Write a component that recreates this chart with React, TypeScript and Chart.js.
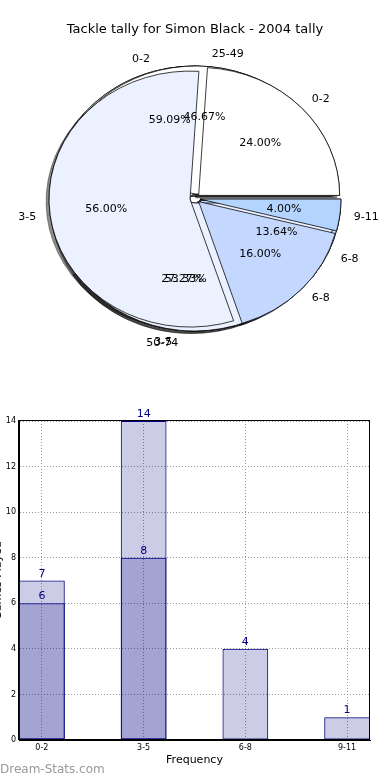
import React, { useEffect, useRef } from 'react';
import { Chart, registerables } from 'chart.js';

Chart.register(...registerables);
Chart.defaults.font.family = '"DejaVu Sans", sans-serif';

// ---------- data ----------
const TITLE = 'Tackle tally for Simon Black - 2004 tally';

// overall pie (drawn on top)
const allLabels = ['0-2', '3-5', '6-8', '9-11'];
const allValues = [6, 14, 4, 1];
// game-range pie
const rangeLabels = ['25-49', '50-74'];
const rangeValues = [7, 8];
// sub pie
const subLabels = ['0-2', '3-5', '6-8'];
const subValues = [13, 6, 3];

const sliceColors = ['#ffffff', '#ebf1ff', '#c4d8ff', '#b3d4ff'];

const barCategories = ['0-2', '3-5', '6-8', '9-11'];
const lightBarValues = [7, 14, 4, 1];
const darkBarValues = [6, 8];
const yTickMax = 14;
const yTickStep = 2;
const xAxisTitle = 'Frequency';
const yAxisTitle = 'Games Played';
const WATERMARK = 'Dream-Stats.com';

// ---------- geometry / style ----------
const RX = 141;
const RY = 128;
const EXPLODE = 5;
const BAR_W = 0.45;
const NAVY = '#000080';
const FONT = '"DejaVu Sans", sans-serif';

// bottom -> top drawing order
const pies = [
  { labels: subLabels, values: subValues },
  { labels: rangeLabels, values: rangeValues },
  { labels: allLabels, values: allValues },
];

const piePlugin = {
  id: 'pieDraw',
  beforeDatasetsDraw(chart: any) {
    const ctx = chart.ctx;
    const metas = chart.data.datasets.map((_: any, i: number) => chart.getDatasetMeta(i));
    const cx = metas[0].data[0].x;
    const cy = metas[0].data[0].y;
    const drawAll = () => {
      metas.forEach((meta: any) => {
        meta.data.forEach((arc: any) => {
          const m = (arc.startAngle + arc.endAngle) / 2;
          const el = Object.create(arc);
          el.outerRadius = RX;
          el.innerRadius = 0;
          ctx.save();
          ctx.translate(Math.cos(m) * EXPLODE, Math.sin(m) * EXPLODE);
          el.draw(ctx);
          ctx.restore();
        });
      });
    };
    ctx.save();
    ctx.translate(cx, cy);
    ctx.scale(1, RY / RX);
    ctx.translate(-cx, -cy);
    ctx.save();
    ctx.shadowColor = 'rgba(0,0,0,0.45)';
    ctx.shadowOffsetX = -3;
    ctx.shadowOffsetY = 2.5;
    ctx.shadowBlur = 0;
    drawAll();
    ctx.restore();
    drawAll();
    ctx.restore();
    return false;
  },
  afterDraw(chart: any) {
    const ctx = chart.ctx;
    const arc0 = chart.getDatasetMeta(0).data[0];
    const cx = arc0.x;
    const cy = arc0.y;
    const ey = EXPLODE * RY / RX;
    ctx.save();
    ctx.fillStyle = '#000';
    ctx.font = `13px ${FONT}`;
    ctx.textAlign = 'center';
    ctx.textBaseline = 'middle';
    ctx.fillText(TITLE, 195, 30);
    ctx.font = `11px ${FONT}`;
    pies.forEach((p) => {
      const total = p.values.reduce((a, b) => a + b, 0);
      let start = 0;
      p.values.forEach((v, i) => {
        const frac = v / total;
        const mid = (start + frac / 2) * Math.PI * 2;
        start += frac;
        const c = Math.cos(mid);
        const s = Math.sin(mid);
        ctx.textBaseline = 'middle';
        ctx.textAlign = c > 0 ? 'left' : 'right';
        ctx.fillText(p.labels[i], cx + (1.1 * RX + EXPLODE) * c, cy - (1.1 * RY + ey) * s);
        ctx.textAlign = 'center';
        ctx.fillText((frac * 100).toFixed(2) + '%', cx + (0.6 * RX + EXPLODE) * c, cy - (0.6 * RY + ey) * s);
      });
    });
    ctx.restore();
  },
};

const barPlugin = {
  id: 'barExtras',
  afterDatasetsDraw(chart: any) {
    const ctx = chart.ctx;
    ctx.save();
    ctx.font = `11px ${FONT}`;
    ctx.fillStyle = NAVY;
    ctx.textAlign = 'center';
    ctx.textBaseline = 'alphabetic';
    chart.data.datasets.forEach((ds: any, di: number) => {
      const meta = chart.getDatasetMeta(di);
      meta.data.forEach((bar: any, i: number) => {
        ctx.fillText(String(ds.data[i].y), bar.x, bar.y - 4);
      });
    });
    ctx.restore();
  },
  afterDraw(chart: any) {
    const ctx = chart.ctx;
    const a = chart.chartArea;
    ctx.save();
    ctx.strokeStyle = '#000';
    ctx.lineWidth = 1;
    const l = Math.round(a.left) - 0.5;
    const t = Math.round(a.top) - 0.5;
    const r = Math.round(a.right) - 0.5;
    const b = Math.round(a.bottom) - 0.5;
    ctx.strokeRect(l, t, r - l, b - t);
    // y axis title (mostly outside the page)
    ctx.fillStyle = '#000';
    ctx.font = `11px ${FONT}`;
    ctx.translate(0.5, (a.top + a.bottom) / 2);
    ctx.rotate(-Math.PI / 2);
    ctx.textAlign = 'center';
    ctx.textBaseline = 'alphabetic';
    ctx.fillText(yAxisTitle, 0, 0);
    ctx.restore();
    ctx.save();
    ctx.fillStyle = '#9a9a9a';
    ctx.font = `12px ${FONT}`;
    ctx.textAlign = 'left';
    ctx.textBaseline = 'middle';
    ctx.fillText(WATERMARK, 0, 390);
    ctx.restore();
  },
};

export default function App() {
  const pieRef = useRef<HTMLCanvasElement>(null);
  const barRef = useRef<HTMLCanvasElement>(null);

  useEffect(() => {
    const pie = new Chart(pieRef.current as HTMLCanvasElement, {
      type: 'pie',
      data: {
        labels: allLabels,
        datasets: pies.map((p) => ({
          data: [...p.values].reverse(),
          backgroundColor: sliceColors.slice(0, p.values.length).reverse(),
          borderColor: '#000',
          borderWidth: 0.8,
          borderJoinStyle: 'miter',
        })),
      } as any,
      options: {
        animation: false,
        responsive: false,
        devicePixelRatio: 1,
        events: [],
        rotation: 90,
        layout: { padding: { left: 0, right: 0, top: 17, bottom: 0 } },
        plugins: { legend: { display: false }, tooltip: { enabled: false }, title: { display: false } },
      } as any,
      plugins: [piePlugin],
    });

    const gridOpts = { color: '#9a9a9a', lineWidth: 1, drawTicks: false };
    const borderOpts = { display: true, color: '#000', width: 1, dash: [1, 2] };

    const bar = new Chart(barRef.current as HTMLCanvasElement, {
      type: 'bar',
      data: {
        datasets: [
          {
            data: darkBarValues.map((v, i) => ({ x: i + BAR_W / 2, y: v })),
            backgroundColor: 'rgba(0,0,128,0.2)',
            borderColor: NAVY,
            borderWidth: 1,
            borderSkipped: false,
          },
          {
            data: lightBarValues.map((v, i) => ({ x: i + BAR_W / 2, y: v })),
            backgroundColor: 'rgba(0,0,128,0.2)',
            borderColor: NAVY,
            borderWidth: 1,
            borderSkipped: false,
          },
        ],
      } as any,
      options: {
        animation: false,
        responsive: false,
        devicePixelRatio: 1,
        events: [],
        layout: { padding: { left: 0, right: 20, top: 41, bottom: 0 } },
        datasets: { bar: { grouped: false, categoryPercentage: 1, barPercentage: BAR_W } },
        plugins: { legend: { display: false }, tooltip: { enabled: false } },
        scales: {
          x: {
            type: 'linear',
            offset: false,
            min: 0,
            max: barCategories.length - 1 + BAR_W,
            afterBuildTicks: (s: any) => {
              s.ticks = barCategories.map((_, i) => ({ value: i + BAR_W / 2 }));
            },
            afterFit: (s: any) => {
              s.height = 40;
            },
            ticks: {
              callback: (_v: any, i: number) => barCategories[i],
              autoSkip: false,
              maxRotation: 0,
              padding: 3,
              color: '#000',
              font: { size: 8 },
            },
            grid: { ...gridOpts, offset: false },
            border: borderOpts,
            title: {
              display: true,
              text: xAxisTitle,
              color: '#000',
              font: { size: 11 },
              padding: { top: 0, bottom: 13 },
            },
          },
          y: {
            min: 0,
            max: yTickMax,
            afterFit: (s: any) => {
              s.width = 19;
            },
            ticks: { stepSize: yTickStep, padding: 3, color: '#000', font: { size: 8 } },
            grid: gridOpts,
            border: borderOpts,
          },
        },
      } as any,
      plugins: [barPlugin],
    });

    return () => {
      pie.destroy();
      bar.destroy();
    };
  }, []);

  return (
    <div
      style={{
        position: 'fixed',
        left: 0,
        top: 0,
        width: 390,
        height: 780,
        background: '#fff',
        overflow: 'hidden',
      }}
    >
      <canvas
        ref={pieRef}
        width={390}
        height={380}
        style={{ position: 'absolute', left: 0, top: 0, width: 390, height: 380 }}
      />
      <canvas
        ref={barRef}
        width={390}
        height={400}
        style={{ position: 'absolute', left: 0, top: 380, width: 390, height: 400 }}
      />
    </div>
  );
}
